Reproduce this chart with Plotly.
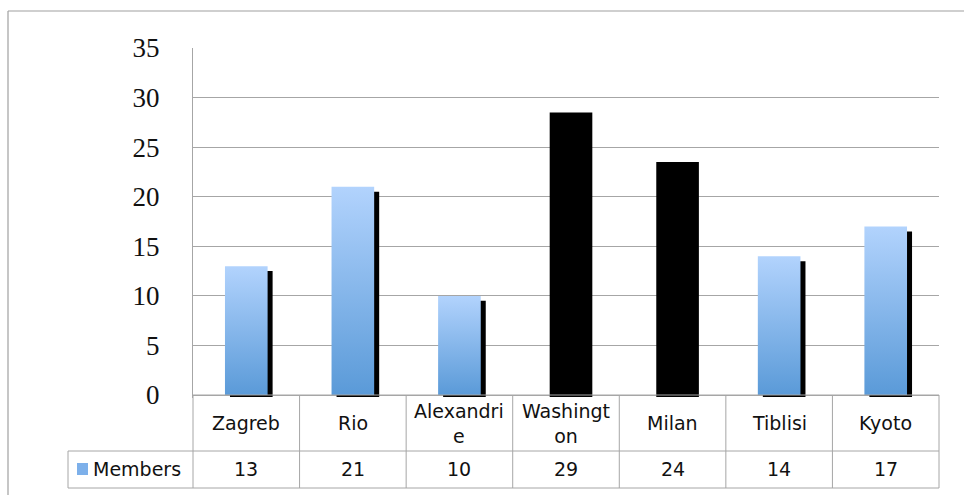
import plotly.graph_objects as go

# ---- data ----
categories = ["Zagreb", "Rio", "Alexandrie", "Washington", "Milan", "Tiblisi", "Kyoto"]
category_labels = ["Zagreb", "Rio", "Alexandri<br>e", "Washingt<br>on", "Milan", "Tiblisi", "Kyoto"]
members = [13, 21, 10, 29, 24, 14, 17]
# in the reference the coloured face of two bars is not rendered (only their shadow shows)
face_shown = [True, True, True, False, False, True, True]
series_name = "Members"
y_ticks = [0, 5, 10, 15, 20, 25, 30, 35]

# ---- layout geometry (pixels) ----
W, H = 964, 495
L, R, T, B = 193, 25, 48, 97
plot_w = W - L - R
plot_h = H - T - B
Y_MIN, Y_MAX = -0.3, 35


def px_x(p):
    return (p - L) / plot_w


def px_y(p):
    return (H - B - p) / plot_h


GRID = "#A6A6A6"
TXT = "#111111"
BAR_HALF = 0.2
SHADOW_DX = 0.047
FONT = "DejaVu Sans"
FS = 19

fig = go.Figure()

# shadows
fig.add_trace(go.Bar(
    x=list(range(len(members))),
    y=[v - 0.3 for v in members],
    base=-0.2,
    width=0.4,
    offset=-BAR_HALF + SHADOW_DX,
    marker=dict(color="#000000", line=dict(width=0)),
    showlegend=False, hoverinfo="skip",
))

# gradient faces
for i, (v, shown) in enumerate(zip(members, face_shown)):
    if not shown:
        continue
    fig.add_trace(go.Scatter(
        x=[i - BAR_HALF, i + BAR_HALF, i + BAR_HALF, i - BAR_HALF, i - BAR_HALF],
        y=[0, 0, v, v, 0],
        mode="lines", line=dict(width=0),
        fill="toself",
        fillgradient=dict(type="vertical",
                          colorscale=[[0, "#5A9AD8"], [1, "#B2D3FD"]]),
        showlegend=False, hoverinfo="skip",
    ))

shapes = []
line = dict(color=GRID, width=1)
# outer chart border (top + left visible)
shapes.append(dict(type="line", xref="paper", yref="paper",
                   x0=px_x(8), x1=px_x(964), y0=px_y(11), y1=px_y(11),
                   line=dict(color="#A0A0A0", width=1.2)))
shapes.append(dict(type="line", xref="paper", yref="paper",
                   x0=px_x(8), x1=px_x(8), y0=px_y(11), y1=px_y(495),
                   line=dict(color="#A0A0A0", width=1.2)))

# data table
row_top, row_mid, row_bot = 395, 451, 488
col_w = plot_w / len(categories)
shapes.append(dict(type="line", xref="paper", yref="paper",
                   x0=0, x1=1, y0=px_y(row_top), y1=px_y(row_top), line=line))
for yy in (row_mid, row_bot):
    shapes.append(dict(type="line", xref="paper", yref="paper",
                       x0=px_x(68), x1=1, y0=px_y(yy), y1=px_y(yy), line=line))
for k in range(len(categories) + 1):
    xx = L + k * col_w
    shapes.append(dict(type="line", xref="paper", yref="paper",
                       x0=px_x(xx), x1=px_x(xx), y0=px_y(row_top), y1=px_y(row_bot),
                       line=line))
shapes.append(dict(type="line", xref="paper", yref="paper",
                   x0=px_x(68), x1=px_x(68), y0=px_y(row_mid), y1=px_y(row_bot),
                   line=line))
# legend swatch
shapes.append(dict(type="rect", xref="paper", yref="paper",
                   x0=px_x(77), x1=px_x(88), y0=px_y(475), y1=px_y(463),
                   fillcolor="#7DB0EA", line=dict(width=0)))

annotations = []
for i, lab in enumerate(category_labels):
    annotations.append(dict(x=i, xref="x", y=px_y(423), yref="paper",
                            text=lab, showarrow=False, xanchor="center", yanchor="middle",
                            font=dict(family=FONT, size=FS, color=TXT)))
for i, v in enumerate(members):
    annotations.append(dict(x=i, xref="x", y=px_y(469.5), yref="paper",
                            text=str(v), showarrow=False, xanchor="center", yanchor="middle",
                            font=dict(family=FONT, size=FS, color=TXT)))
annotations.append(dict(x=px_x(91), xref="paper", y=px_y(469.5), yref="paper",
                        text=series_name, showarrow=False, xanchor="left", yanchor="middle",
                        font=dict(family=FONT, size=FS, color=TXT)))

fig.update_layout(
    width=W, height=H,
    margin=dict(l=L, r=R, t=T, b=B, pad=0),
    paper_bgcolor="white", plot_bgcolor="white",
    barmode="overlay",
    showlegend=False,
    shapes=shapes,
    annotations=annotations,
    xaxis=dict(range=[-0.5, len(categories) - 0.5], showticklabels=False,
               showgrid=False, zeroline=False, showline=False, fixedrange=True),
    yaxis=dict(range=[Y_MIN, Y_MAX], tickvals=y_ticks,
               showgrid=True, gridcolor=GRID, gridwidth=1,
               zeroline=False, showline=True, linecolor=GRID, linewidth=1,
               ticks="", ticklabelstandoff=27, fixedrange=True,
               tickfont=dict(family="Liberation Serif", size=27, color=TXT)),
)

fig.write_html("out.html",
               config={"displayModeBar": False, "staticPlot": True},
               post_script="document.body.style.margin='0';document.body.style.overflow='hidden';")
